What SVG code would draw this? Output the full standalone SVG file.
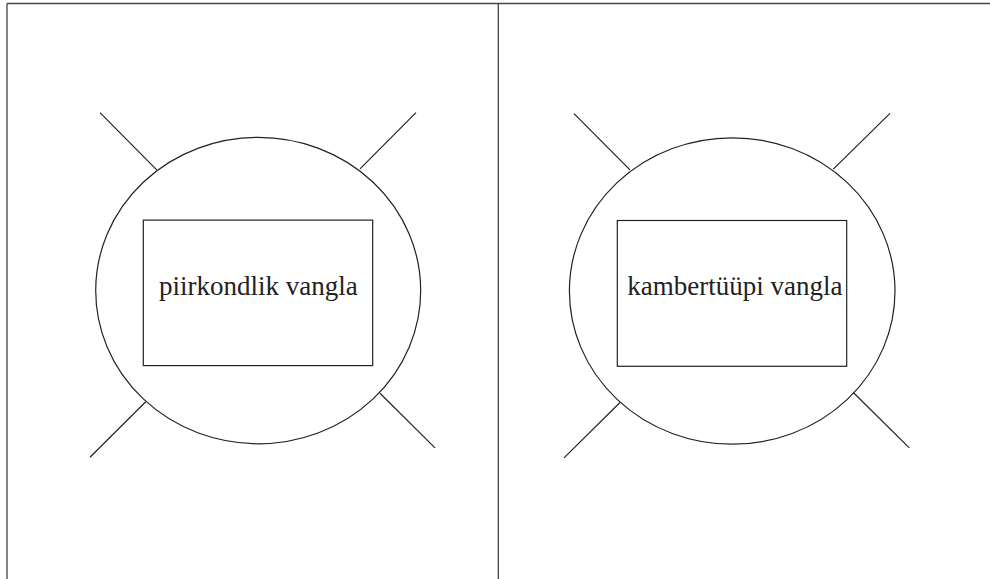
<svg xmlns="http://www.w3.org/2000/svg" width="990" height="579" viewBox="0 0 990 579">
<style>
.frame{stroke:#444;stroke-width:1.3;fill:none}
.ln{stroke:#222;stroke-width:1.2;fill:none}
.lbl{font-family:"Liberation Serif","Times New Roman",serif;font-size:27px;fill:#222;text-anchor:middle}
</style>
<rect width="990" height="579" fill="#fff"/>
<g id="frame">
<path class="frame" d="M7,3.5 H991 M7,3.5 V580 M498.3,3.5 V580"/>
</g>
<g id="left-prison">
<ellipse class="ln" cx="258.2" cy="290.6" rx="162.5" ry="153.2"/>
<rect class="ln" x="143.3" y="220.1" width="229.4" height="145.5"/>
<text class="lbl" x="258.3" y="295">piirkondlik vangla</text>
</g>
<g id="right-prison">
<ellipse class="ln" cx="732.2" cy="291" rx="162.8" ry="153.2"/>
<rect class="ln" x="617.3" y="220.5" width="229.4" height="145.8"/>
<text class="lbl" x="734.8" y="295">kambertüüpi vangla</text>
</g>
<g id="connectors">
<line class="ln" x1="100" y1="112.6" x2="156.7" y2="169.9"/>
<line class="ln" x1="416" y1="112.6" x2="360" y2="168.8"/>
<line class="ln" x1="90" y1="457.2" x2="145.7" y2="401.8"/>
<line class="ln" x1="435" y1="447.9" x2="380" y2="393.3"/>
<line class="ln" x1="574" y1="113.7" x2="630" y2="169.9"/>
<line class="ln" x1="890" y1="113.4" x2="833.3" y2="169.1"/>
<line class="ln" x1="564" y1="457.9" x2="620" y2="402.5"/>
<line class="ln" x1="909.3" y1="447.9" x2="853.3" y2="392.5"/>
</g>
</svg>
